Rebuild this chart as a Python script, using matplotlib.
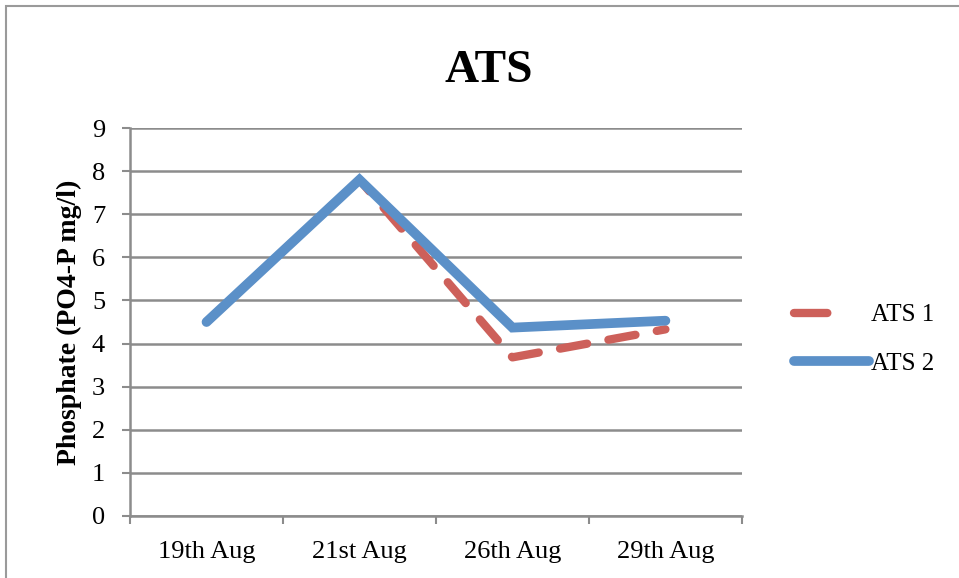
import matplotlib.pyplot as plt
from matplotlib.patches import Rectangle
import numpy as np

dates = ['19th Aug', '21st Aug', '26th Aug', '29th Aug']
ats1 = [4.5, 7.8, 3.68, 4.33]
ats2 = [4.5, 7.8, 4.37, 4.53]

red = '#CD605A'
blue = '#5B90C8'
grid = '#8C8C8C'

plt.rcParams['font.family'] = ['Liberation Serif', 'DejaVu Serif']

fig = plt.figure(figsize=(9.59, 5.78), dpi=100)
ax = fig.add_axes([0.1356, 0.1073, 0.638, 0.6712])

# outer chart frame (runs off the right/bottom edge)
fig.patches.append(Rectangle((6 / 959, -0.05), 1.1, 1 - 6 / 578 + 0.05,
                             transform=fig.transFigure, fill=False,
                             edgecolor='#9A9A9A', linewidth=1.5))

x = np.arange(len(dates)) + 0.5
ax.plot(x, ats1, color=red, linewidth=6, linestyle=(0, (3.3, 2.6)),
        dash_capstyle='round', solid_joinstyle='miter', label='ATS 1')
ax.plot(x, ats2, color=blue, linewidth=7, solid_capstyle='round',
        solid_joinstyle='miter', label='ATS 2')

ax.set_xlim(0, 4)
ax.set_ylim(0, 9)
ax.set_yticks(range(0, 10))
ax.set_xticks(range(0, 5))
ax.set_xticklabels([])
ax.set_xticks(x, minor=True)
ax.set_xticklabels(dates, minor=True)
ax.tick_params(axis='x', which='minor', length=0, pad=18, labelsize=19)
ax.tick_params(axis='x', which='major', length=6, width=1.5, color=grid)
ax.tick_params(axis='y', length=6, width=1.5, color=grid, labelsize=19, pad=12)

ax.grid(axis='y', color=grid, linewidth=1.8)
ax.set_axisbelow(True)
for s in ['top', 'right']:
    ax.spines[s].set_visible(False)
for s in ['left', 'bottom']:
    ax.spines[s].set_color(grid)
    ax.spines[s].set_linewidth(1.8)

ax.set_ylabel('Phosphate (PO4-P mg/l)', fontsize=20, fontweight='bold', labelpad=7)
fig.text(0.51, 0.877, 'ATS', ha='center', va='center', fontsize=34, fontweight='bold')

leg = ax.legend(loc='center left', bbox_to_anchor=(1.049, 0.455), frameon=False,
                fontsize=18, handlelength=3.0, handletextpad=0.05, labelspacing=1.05)
# legend key for the dashed series shows a single dash
leg.get_lines()[0].set_linestyle((0, (4.0, 30)))

fig.savefig('out.png', dpi=100)
